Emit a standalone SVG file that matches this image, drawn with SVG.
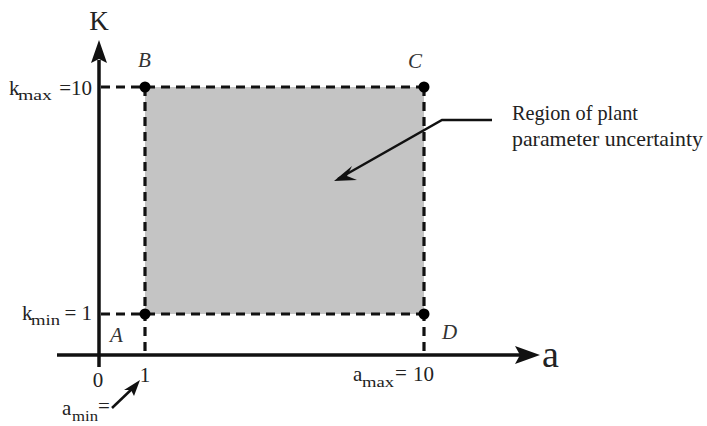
<svg xmlns="http://www.w3.org/2000/svg" width="707" height="426" viewBox="0 0 707 426">
<style>
.t{font-family:"Liberation Serif","Times New Roman",serif;fill:#222;}
.lbl{font-size:21px;}
.sub{font-size:15px;}
.it{font-size:21px;font-style:italic;fill:#333;}
.axis{stroke:#111;stroke-width:3.5;fill:none;}
.dash{stroke:#111;stroke-width:3.2;stroke-dasharray:9 6;fill:none;}
.dot{fill:#000;}
</style>
<rect width="707" height="426" fill="#fff"/>
<g id="region">
<rect x="145" y="87" width="279" height="227" fill="#c4c4c4"/>
</g>
<g id="connectors">
<line class="axis" x1="99" y1="367" x2="99" y2="60"/>
<path d="M99,40 L107,63 L99,59 L91,63 Z" fill="#111"/>
<line class="axis" x1="57" y1="355" x2="520" y2="355"/>
<path d="M540,355 L515,346 L520,355 L515,364 Z" fill="#111"/>
<line class="dash" x1="101" y1="87" x2="424" y2="87"/>
<line class="dash" x1="101" y1="314" x2="424" y2="314"/>
<line class="dash" x1="145" y1="87" x2="145" y2="355"/>
<line class="dash" x1="424" y1="87" x2="424" y2="355"/>
<polyline points="492,120 442,120 338,179" fill="none" stroke="#111" stroke-width="2.5"/>
<path d="M334,181 L352,166 L347,176 L357,180 Z" fill="#111"/>
<line x1="112" y1="408" x2="134" y2="387" stroke="#111" stroke-width="2.5"/>
<path d="M140,380 L124,390 L131,390 L134,396 Z" fill="#111"/>
</g>
<g id="points">
<circle class="dot" cx="145" cy="87" r="5.5"/>
<circle class="dot" cx="424" cy="87" r="5.5"/>
<circle class="dot" cx="145" cy="314" r="5.5"/>
<circle class="dot" cx="424" cy="314" r="5.5"/>
</g>
<g id="labels">
<text class="t" x="99" y="30" font-size="27" text-anchor="middle">K</text>
<text class="t" x="542" y="367" font-size="38">a</text>
<text class="t it" x="138" y="67">B</text>
<text class="t it" x="408" y="68">C</text>
<text class="t it" x="110" y="342">A</text>
<text class="t it" x="442" y="339">D</text>
<text class="t lbl" x="9" y="95">k</text>
<text class="t sub" x="18" y="100" textLength="34" lengthAdjust="spacingAndGlyphs">max</text>
<text class="t lbl" x="92" y="95" text-anchor="end">=10</text>
<text class="t lbl" x="22" y="320">k</text>
<text class="t sub" x="31" y="325" textLength="29" lengthAdjust="spacingAndGlyphs">min</text>
<text class="t lbl" x="92" y="320" text-anchor="end">= 1</text>
<text class="t lbl" x="98" y="387" text-anchor="middle">0</text>
<text class="t lbl" x="145" y="382" text-anchor="middle">1</text>
<text class="t lbl" x="62" y="415">a</text>
<text class="t sub" x="72" y="421" textLength="26" lengthAdjust="spacingAndGlyphs">min</text>
<text class="t lbl" x="98" y="413">=</text>
<text class="t lbl" x="353" y="381">a</text>
<text class="t sub" x="362" y="387" textLength="32" lengthAdjust="spacingAndGlyphs">max</text>
<text class="t lbl" x="395" y="380">=</text>
<text class="t lbl" x="413" y="381">10</text>
<text class="t" x="512" y="120" font-size="21" textLength="126" lengthAdjust="spacingAndGlyphs">Region of plant</text>
<text class="t" x="512" y="146" font-size="21" textLength="191" lengthAdjust="spacingAndGlyphs">parameter uncertainty</text>
</g>
</svg>
